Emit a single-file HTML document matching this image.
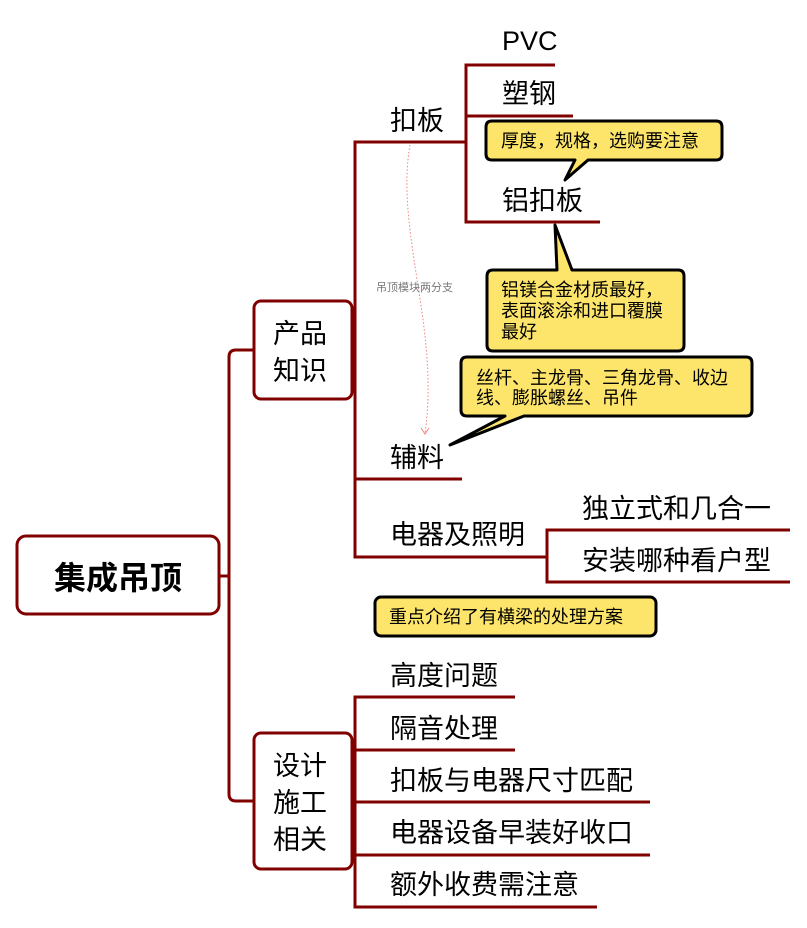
<!DOCTYPE html>
<html><head><meta charset="utf-8"><style>
html,body{margin:0;padding:0;background:#fff;}
svg text{font-family:"Liberation Sans","Noto Sans CJK SC",sans-serif;}
</style></head><body>
<svg width="807" height="923" viewBox="0 0 807 923" xmlns="http://www.w3.org/2000/svg">
<g fill="none" stroke="#800000" stroke-width="3">
<path d="M219 576 H229"/>
<path d="M254 350 H236 Q229 350 229 357 V794 Q229 801 236 801 H254"/>
<rect x="17" y="536" width="202" height="78" rx="9" fill="#fff"/>
<rect x="254" y="301" width="98" height="98" rx="7" fill="#fff"/>
<rect x="254" y="733" width="98" height="136" rx="7" fill="#fff"/>
<path d="M352 350 H355"/>
<path d="M465 142 H355 V557 H547"/>
<path d="M355 479 H462"/>
<path d="M555 65 H466 V222 H600"/>
<path d="M466 116 H573"/>
<path d="M790 530 H547 V582 H790"/>
<path d="M352 801 H355"/>
<path d="M515 697 H355 V907 H597"/>
<path d="M355 750 H515"/>
<path d="M355 802 H650"/>
<path d="M355 855 H650"/>
</g>
<path d="M410 145 C395 230 440 330 425 433" fill="none" stroke="#f08080" stroke-width="1" stroke-dasharray="1.5 2"/>
<path d="M421 428 L425 434 L429 428" fill="none" stroke="#f08080" stroke-width="1"/>
<text x="376" y="291" font-size="11" fill="#777">吊顶模块两分支</text>
<g font-size="27" fill="#000">
<text x="118" y="589" font-size="32" font-weight="bold" text-anchor="middle">集成吊顶</text>
<text x="273" y="343">产品</text>
<text x="273" y="380">知识</text>
<text x="273" y="775">设计</text>
<text x="273" y="812">施工</text>
<text x="273" y="849">相关</text>
<text x="390" y="130">扣板</text>
<text x="502" y="50">PVC</text>
<text x="502" y="103">塑钢</text>
<text x="502" y="210">铝扣板</text>
<text x="390" y="467">辅料</text>
<text x="390" y="544">电器及照明</text>
<text x="582" y="518">独立式和几合一</text>
<text x="582" y="570">安装哪种看户型</text>
<text x="390" y="685">高度问题</text>
<text x="390" y="738">隔音处理</text>
<text x="390" y="790">扣板与电器尺寸匹配</text>
<text x="390" y="842">电器设备早装好收口</text>
<text x="390" y="894">额外收费需注意</text>
</g>
<g fill="#fde56b" stroke="#000" stroke-width="3" stroke-linejoin="round">
<path d="M492 121 H716 Q722 121 722 127 V154 Q722 160 716 160 H588 L565 180 L575 160 H492 Q486 160 486 154 V127 Q486 121 492 121 Z"/>
<path d="M493 270 H557 L555 225 L572 270 H678 Q684 270 684 276 V345 Q684 351 678 351 H493 Q487 351 487 345 V276 Q487 270 493 270 Z"/>
<path d="M467 357 H746 Q752 357 752 363 V410 Q752 416 746 416 H524 L450 445 L505 416 H467 Q461 416 461 410 V363 Q461 357 467 357 Z"/>
<rect x="375" y="597" width="281" height="39" rx="6"/>
</g>
<g font-size="18" fill="#000">
<text x="501" y="147">厚度，规格，选购要注意</text>
<text x="501" y="296">铝镁合金材质最好，</text>
<text x="501" y="317">表面滚涂和进口覆膜</text>
<text x="501" y="338">最好</text>
<text x="476" y="384">丝杆、主龙骨、三角龙骨、收边</text>
<text x="476" y="404">线、膨胀螺丝、吊件</text>
<text x="389" y="623">重点介绍了有横梁的处理方案</text>
</g>
</svg>
</body></html>
